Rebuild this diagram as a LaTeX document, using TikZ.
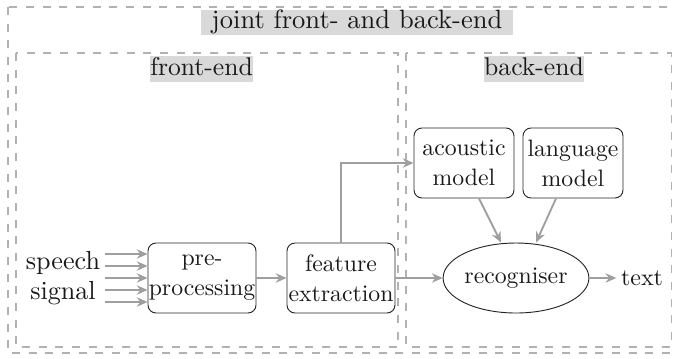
\documentclass[tikz,border=0pt]{standalone}
\usepackage{fontspec}
\setmainfont{lmroman10-regular.otf}
\usepackage{xcolor}
\usetikzlibrary{arrows.meta,shapes.geometric}
\tikzset{
	region/.style={draw=gray!60, line width=0.8pt, dash pattern=on 6pt off 6.5pt},
	tag/.style={fill=gray!30, text=black!90, inner xsep=0pt, inner ysep=0.5pt,
			text height=13.5pt, text depth=4.5pt, font=\fontsize{19.2}{22}\selectfont},
	block/.style={draw=black!85, text=black!90, rounded corners=6pt, line width=0.7pt,
			align=center, minimum width=81pt, minimum height=52.5pt, inner sep=0pt,
			font=\fontsize{17.8}{22.5}\selectfont},
	flow/.style={draw=gray!75, line width=1.4pt, -{Stealth[length=8pt,width=7pt,inset=2.5pt]}}
}

\begin{document}
\begin{tikzpicture}[x=0.75pt,y=-0.75pt]
            \useasboundingbox (0,0) rectangle (673,358);
            \clip (0,0) rectangle (673,358);
            % dashed regions
            \draw[region] (8,7) rectangle (700,353);
            \draw[region] (16,53) rectangle (398,347);
            \draw[region] (406,53) rectangle (671.5,347);
            \node[tag, inner xsep=8pt, font=\fontsize{19.9}{22}\selectfont] (joint) at (357,22.5) {joint front- and back-end};
            \node[tag] (front) at (201.5,69) {front-end};
            \node[tag] (back) at (534,69) {back-end};
            % blocks
            \node[align=center, text=black!90, font=\fontsize{19.6}{22.5}\selectfont] (sig) at (63,278) {speech\\signal};
            \node[block] (pre) at (202,278) {pre-\\processing};
            \node[block] (fe) at (341,278) {feature\\extraction};
            \node[block, minimum width=75pt] (am) at (464,163) {acoustic\\model};
            \node[block, minimum width=75pt] (lm) at (573,163) {language\\model};
            \node[ellipse, draw=black!85, text=black!90, line width=0.7pt, inner sep=0pt,
                minimum width=102pt, minimum height=52.5pt,
                font=\fontsize{17.8}{22.5}\selectfont] (rec) at (516,278) {recogniser};
            \node[text=black!90, font=\fontsize{18}{22.5}\selectfont] (out) at (642,278) {text};
            % connectors
            \foreach \dy in {-24,-12,0,12,24}
                \draw[flow] ([yshift=\dy*0.75pt]sig.east) -- ([yshift=\dy*0.75pt]pre.west);
            \draw[flow] (pre) -- (fe);
            \draw[flow] (fe.north) |- (am.west);
            \draw[flow] (fe) -- (rec);
            \draw[flow] ([xshift=11.25pt]am.south) -- ([xshift=-11.25pt]rec.north);
            \draw[flow] ([xshift=-12.75pt]lm.south) -- ([xshift=15pt]rec.north);
            \draw[flow] (rec) -- (out);
        \end{tikzpicture}
\end{document}
